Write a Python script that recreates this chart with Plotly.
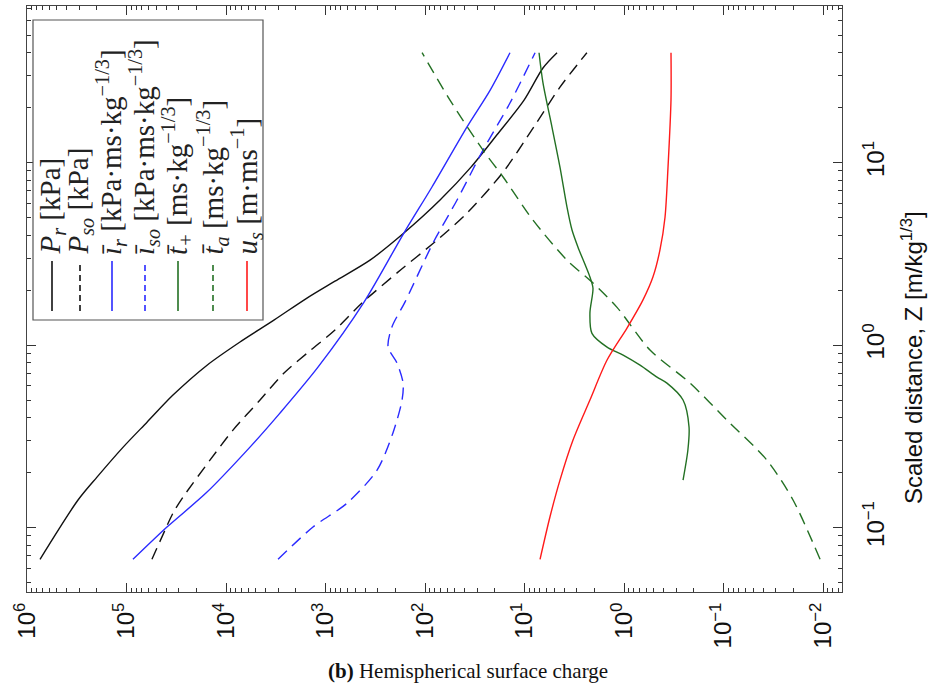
import plotly.graph_objects as go

# ---------------- data ----------------
# Scaled distance Z [m/kg^(1/3)] and the corresponding parameter values
z_pr = [0.067, 0.1416, 0.189, 0.276, 0.378, 0.532, 0.776, 1.04, 1.37, 1.81, 2.24, 2.92, 4.11, 6.23, 9.44, 14.2, 22.0, 33.0, 40]
v_pr = [7.4e5, 3.07e5, 1.98e5, 1.08e5, 6.22e4, 3.41e4, 1.55e4, 7230, 3300, 1535, 803, 357, 163, 70.6, 34.5, 18.9, 10.1, 6.52, 4.71]

z_pso = [0.067, 0.0969, 0.120, 0.147, 0.234, 0.342, 0.500, 0.703, 0.940, 1.21, 1.70, 2.51, 3.76, 5.29, 8.87, 15.7, 25.9, 40]
v_pso = [55500, 41000, 34100, 27000, 14500, 8510, 4550, 2610, 1400, 803, 430, 187, 75.7, 37.8, 16.4, 8.04, 4.40, 2.36]

z_ir = [0.067, 0.1007, 0.1545, 0.276, 0.424, 0.757, 1.72, 4.11, 7.35, 15.7, 24.9, 40]
v_ir = [86100, 39200, 15900, 5740, 2870, 1190, 410, 163, 85.1, 37.8, 22.2, 14.0]

z_iso = [0.067, 0.1007, 0.136, 0.2065, 0.330, 0.500, 0.619, 0.796, 0.975, 1.256, 1.72, 3.62, 6.24, 11.7, 21.2, 40]
v_iso = [3000, 1336, 608, 303, 210, 170, 166, 191, 235, 215, 159, 83.2, 47.6, 26.1, 14.0, 7.83]

z_tp = [0.182, 0.266, 0.356, 0.500, 0.619, 0.668, 0.776, 0.881, 0.975, 1.16, 1.50, 2.05, 2.36, 3.44, 4.27, 5.70, 9.44, 15.7, 27.3, 40]
v_tp = [0.255, 0.228, 0.222, 0.255, 0.370, 0.466, 0.690, 1.02, 1.48, 2.10, 2.20, 2.05, 2.20, 2.90, 3.33, 3.74, 4.40, 5.30, 6.52, 7.14]

z_ta = [0.067, 0.1416, 0.234, 0.388, 0.619, 0.940, 1.61, 2.19, 2.92, 4.84, 8.34, 11.7, 22.0, 40]
v_ta = [0.0107, 0.0200, 0.0366, 0.0923, 0.217, 0.548, 1.175, 2.05, 3.74, 8.22, 16.4, 26.1, 56.1, 107]

z_us = [0.067, 0.1143, 0.182, 0.301, 0.500, 0.828, 1.24, 1.77, 2.36, 3.32, 5.02, 9.44, 22.0, 40]
v_us = [6.98, 5.55, 4.40, 3.26, 2.20, 1.48, 0.933, 0.644, 0.512, 0.435, 0.387, 0.361, 0.337, 0.337]

x_tick_exps = [6, 5, 4, 3, 2, 1, 0, -1, -2]
y_tick_exps = [-1, 0, 1]

legend_labels = [
    "<i>P<sub>r</sub></i> [kPa]",
    "<i>P<sub>so</sub></i> [kPa]",
    "<i>\u012b<sub>r</sub></i> [kPa\u00b7ms\u00b7kg<sup>\u22121/3</sup>]",
    "<i>\u012b<sub>so</sub></i> [kPa\u00b7ms\u00b7kg<sup>\u22121/3</sup>]",
    "<i>t\u0304<sub>+</sub></i> [ms\u00b7kg<sup>\u22121/3</sup>]",
    "<i>t\u0304<sub>a</sub></i> [ms\u00b7kg<sup>\u22121/3</sup>]",
    "<i>u<sub>s</sub></i> [m\u00b7ms<sup>\u22121</sup>]",
]

# ---------------- styling ----------------
BLACK = "#111111"
BLUE = "#2a2aff"
GREEN = "#237023"
RED = "#ff1a1a"
DASH = "12px,7px"

series = [
    (z_pr, v_pr, BLACK, "solid"),
    (z_pso, v_pso, BLACK, DASH),
    (z_ir, v_ir, BLUE, "solid"),
    (z_iso, v_iso, BLUE, DASH),
    (z_tp, v_tp, GREEN, "solid"),
    (z_ta, v_ta, GREEN, DASH),
    (z_us, v_us, RED, "solid"),
]

W, H = 933, 687
L, R, T, B = 27, 842, 6, 592


def px(xp):
    return (xp - L) / (R - L)


def py(yp):
    return (B - yp) / (B - T)


fig = go.Figure()
for zz, vv, col, dash in series:
    fig.add_trace(go.Scatter(x=vv, y=zz, mode="lines",
                             line=dict(color=col, width=1.4, dash=dash, shape="spline", smoothing=0.8),
                             showlegend=False, hoverinfo="skip"))

tickfont = dict(family="Liberation Sans, Arial, sans-serif", size=24, color="#111111")
minor_x = [m * 10.0 ** k for k in range(-3, 6) for m in range(2, 10)]
minor_y = [m * 10.0 ** k for k in range(-2, 2) for m in range(2, 10)]

fig.update_xaxes(
    type="log", range=[6, -2.191], showgrid=False, zeroline=False,
    showline=True, linecolor="#444444", linewidth=1, mirror="ticks",
    ticks="inside", ticklen=9, tickcolor="#333333", tickwidth=1,
    tickmode="array", tickvals=[10.0 ** e for e in x_tick_exps],
    ticktext=[("10<sup>%s</sup>" % (str(e).replace("-", "\u2212"))) for e in x_tick_exps],
    tickangle=-90, tickfont=tickfont,
    minor=dict(tickmode="array", tickvals=minor_x, ticks="inside", ticklen=4, tickcolor="#333333", showgrid=False),
)
fig.update_yaxes(
    type="log", range=[-1.353, 1.858], side="right", showgrid=False, zeroline=False,
    showline=True, linecolor="#444444", linewidth=1, mirror="ticks",
    ticks="inside", ticklen=9, tickcolor="#333333", tickwidth=1,
    tickmode="array", tickvals=[10.0 ** e for e in y_tick_exps],
    ticktext=[("10<sup>%s</sup>" % (str(e).replace("-", "\u2212"))) for e in y_tick_exps],
    tickangle=-90, tickfont=tickfont, ticklabelstandoff=12,
    minor=dict(tickmode="array", tickvals=minor_y, ticks="inside", ticklen=4, tickcolor="#333333", showgrid=False),
)

shapes = []
annotations = []
# legend box
shapes.append(dict(type="rect", xref="paper", yref="paper", x0=px(33), x1=px(263), y0=py(320), y1=py(20),
                   line=dict(color="#555555", width=1.2), fillcolor="white", layer="above"))
leg_x = [52, 80, 112, 145, 178, 213, 247]
for (zz, vv, col, dash), lx, lab in zip(series, leg_x, legend_labels):
    shapes.append(dict(type="line", xref="paper", yref="paper", x0=px(lx), x1=px(lx), y0=py(311), y1=py(261),
                       line=dict(color=col, width=1.6, dash=dash if dash == "solid" else "6px,4px"), layer="above"))
    annotations.append(dict(text=lab, xref="paper", yref="paper", x=px(lx - 1), y=py(257), xanchor="center", yanchor="bottom",
                            textangle=-90, showarrow=False,
                            font=dict(family="Liberation Serif, DejaVu Serif, serif", size=29, color="#222222")))

# axis title
annotations.append(dict(text="Scaled distance, Z [m/kg<sup>1/3</sup>]", xref="paper", yref="paper",
                        x=px(912), y=py(358), xanchor="center", yanchor="middle", textangle=-90, showarrow=False,
                        font=dict(family="Liberation Sans, Arial, sans-serif", size=24, color="#111111")))
# caption
annotations.append(dict(text="<b>(b)</b> Hemispherical surface charge", xref="paper", yref="paper",
                        x=px(468), y=py(671), xanchor="center", yanchor="middle", showarrow=False,
                        font=dict(family="Liberation Serif, DejaVu Serif, serif", size=21, color="#111111")))

fig.update_layout(
    width=W, height=H, margin=dict(l=L, r=W - R, t=T, b=H - B, autoexpand=False),
    paper_bgcolor="white", plot_bgcolor="white",
    shapes=shapes, annotations=annotations, showlegend=False,
)

fig.write_html("out.html", config={"displayModeBar": False},
               post_script="document.body.style.margin='0';")
